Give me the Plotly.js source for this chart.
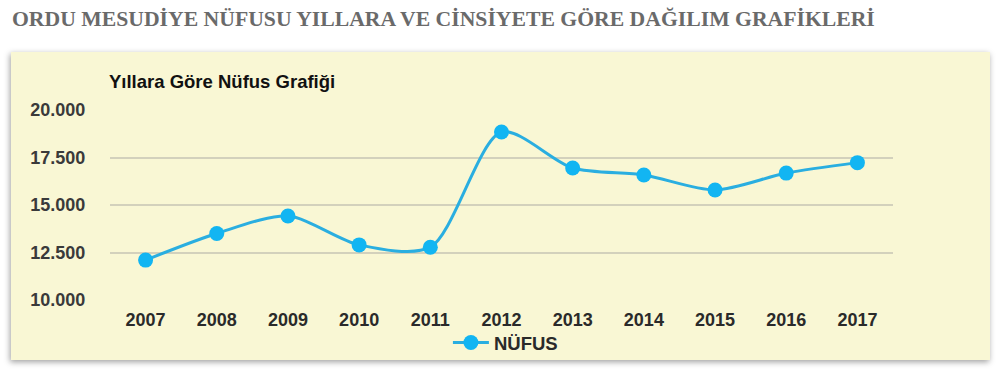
<!DOCTYPE html>
<html>
<head>
<meta charset="utf-8">
<script src="https://cdn.plot.ly/plotly-3.0.1.min.js"></script>
<style>
  html, body { margin: 0; padding: 0; background: #ffffff; }
  #wrap { position: relative; width: 1000px; height: 375px; overflow: hidden; }
  #panel { position: absolute; left: 11px; top: 52px; width: 979px; height: 308px;
           background: #f9f7d4; box-shadow: -1px 2px 6px rgba(0,0,0,0.38); }
  #chart { position: absolute; left: 0; top: 0; width: 1000px; height: 375px; }
</style>
</head>
<body>
<div id="wrap">
  <div id="panel"></div>
  <div id="chart"></div>
</div>
<script>
const years = ['2007','2008','2009','2010','2011','2012','2013','2014','2015','2016','2017'];
const population = [12100, 13500, 14420, 12900, 12780, 18840, 16950, 16580, 15790, 16680, 17230];
const yTicks = [10000, 12500, 15000, 17500, 20000];
const seriesName = 'NÜFUS';
const pageTitle = 'ORDU MESUDİYE NÜFUSU YILLARA VE CİNSİYETE GÖRE DAĞILIM GRAFİKLERİ';
const chartTitle = 'Yıllara Göre Nüfus Grafiği';

const trace = {
  x: years,
  y: population,
  type: 'scatter',
  mode: 'lines+markers',
  name: seriesName,
  line: { shape: 'spline', smoothing: 0.8, color: '#2aaee0', width: 3 },
  marker: { size: 15, color: '#12b5f2' }
};

const layout = {
  width: 1000,
  height: 375,
  margin: { l: 110, r: 107, t: 110, b: 75 },
  paper_bgcolor: 'rgba(0,0,0,0)',
  plot_bgcolor: 'rgba(0,0,0,0)',
  separators: ',.',
  font: { family: 'Liberation Sans, Arial, sans-serif', size: 18, color: '#333333' },
  title: {
    text: '<b>' + pageTitle + '</b>',
    x: 0.012, xanchor: 'left', xref: 'container',
    y: 1 - 18/375, yanchor: 'middle', yref: 'container',
    font: { family: 'Liberation Serif, Times New Roman, serif', size: 21.7, color: '#6a6a6a' }
  },
  xaxis: {
    type: 'category',
    range: [-0.5, 10.5],
    showgrid: false,
    zeroline: false,
    showline: false,
    ticks: 'outside', ticklen: 3, tickcolor: 'rgba(0,0,0,0)',
    tickfont: { family: 'Liberation Sans, Arial, sans-serif', size: 18, color: '#2a2a2a', weight: 'bold' },
    fixedrange: true
  },
  yaxis: {
    range: [10000, 20000],
    tickvals: yTicks,
    tickformat: ',d',
    showgrid: true,
    gridcolor: '#d3d1bc',
    gridwidth: 2,
    zeroline: false,
    showline: false,
    ticks: 'outside', ticklen: 20, tickcolor: 'rgba(0,0,0,0)',
    tickfont: { family: 'Liberation Sans, Arial, sans-serif', size: 18, color: '#3a3a3a', weight: 'bold' },
    fixedrange: true
  },
  showlegend: true,
  legend: {
    orientation: 'h',
    x: 0.505, xanchor: 'center',
    y: -0.226, yanchor: 'middle',
    itemwidth: 36,
    bgcolor: 'rgba(0,0,0,0)',
    font: { family: 'Liberation Sans, Arial, sans-serif', size: 18.5, color: '#2a2a2a', weight: 'bold' }
  },
  annotations: [{
    text: '<b>' + chartTitle + '</b>',
    xref: 'paper', yref: 'paper',
    x: -0.004, xanchor: 'left',
    y: 1 + 29/190, yanchor: 'middle',
    showarrow: false,
    font: { family: 'Liberation Sans, Arial, sans-serif', size: 18.5, color: '#111111' }
  }]
};

Plotly.newPlot('chart', [trace], layout, { displayModeBar: false, staticPlot: true });
</script>
</body>
</html>
